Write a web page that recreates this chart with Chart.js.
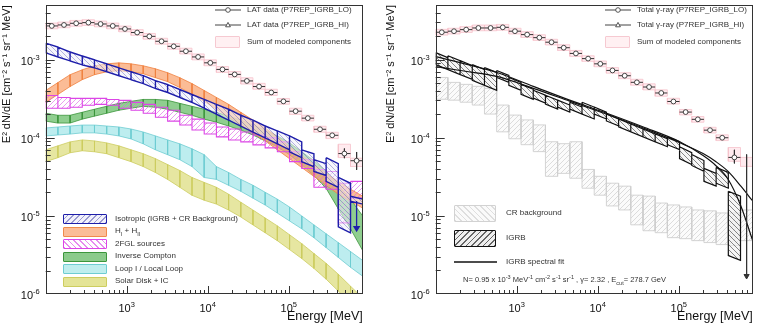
<!DOCTYPE html>
<html>
<head>
<meta charset="utf-8">
<script src="https://cdn.jsdelivr.net/npm/chart.js@4.4.1/dist/chart.umd.min.js"></script>
<style>
  body { margin: 0; background: #fff; width: 758px; height: 324px; overflow: hidden; position: relative; font-family: "Liberation Sans", Arial, sans-serif; }
  canvas { position: absolute; top: 0; }
  .t { position: absolute; font-size: 8px; line-height: 10px; color: #333; white-space: nowrap; }
  .t sub, .t sup { font-size: 5.5px; line-height: 0; }
  .sw { position: absolute; box-sizing: border-box; border-radius: 1px; }
  svg { position: absolute; }
</style>
</head>
<body>
<canvas id="left" width="379" height="324" style="left:0"></canvas>
<canvas id="right" width="379" height="324" style="left:379px"></canvas>

<!-- left panel legends -->
<svg style="left:214px;top:5px" width="28" height="10"><line x1="1" y1="5" x2="27" y2="5" stroke="#444" stroke-width="1"/><circle cx="14" cy="5" r="2.3" fill="#fff" stroke="#444" stroke-width="0.9"/></svg>
<div class="t" style="left:247px;top:5px">LAT data (P7REP_IGRB_LO)</div>
<svg style="left:214px;top:20px" width="28" height="10"><line x1="1" y1="5" x2="27" y2="5" stroke="#444" stroke-width="1"/><path d="M14 2.4 L16.4 6.8 L11.6 6.8 Z" fill="#fff" stroke="#444" stroke-width="0.9"/></svg>
<div class="t" style="left:247px;top:20px">LAT data (P7REP_IGRB_HI)</div>
<div class="sw" style="left:215px;top:36px;width:25px;height:12px;background:#fff0f2;border:1px solid #f6c9d1"></div>
<div class="t" style="left:247px;top:37px">Sum of modeled components</div>

<div class="sw" style="left:63px;top:214px;width:44px;height:10px;border:1.5px solid #1e1eaa;background:repeating-linear-gradient(-45deg,rgba(70,70,170,.55) 0 1px,rgba(236,236,250,.7) 1px 4px)"></div>
<div class="t" style="left:115px;top:213.5px">Isotropic (IGRB + CR Background)</div>
<div class="sw" style="left:63px;top:226.5px;width:44px;height:10px;background:rgba(250,172,125,.8);border:1px solid #f08a4a"></div>
<div class="t" style="left:115px;top:226px">H<sub>I</sub> + H<sub>II</sub></div>
<div class="sw" style="left:63px;top:239px;width:44px;height:10px;border:1.2px solid #dc46e6;background:repeating-linear-gradient(45deg,rgba(225,110,235,.8) 0 1px,#fff 1px 4px)"></div>
<div class="t" style="left:115px;top:238.5px">2FGL sources</div>
<div class="sw" style="left:63px;top:251.5px;width:44px;height:10px;background:rgba(110,190,110,.8);border:1px solid #3c963c"></div>
<div class="t" style="left:115px;top:251px">Inverse Compton</div>
<div class="sw" style="left:63px;top:264px;width:44px;height:10px;background:#bfeeee;border:1px solid #6ecdd2"></div>
<div class="t" style="left:115px;top:263.5px">Loop I / Local Loop</div>
<div class="sw" style="left:63px;top:276.5px;width:44px;height:10px;background:#e4e496;border:1px solid #cdcd5f"></div>
<div class="t" style="left:115px;top:276px">Solar Disk + IC</div>

<!-- right panel legends -->
<svg style="left:604px;top:5px" width="28" height="10"><line x1="1" y1="5" x2="27" y2="5" stroke="#444" stroke-width="1"/><circle cx="14" cy="5" r="2.3" fill="#fff" stroke="#444" stroke-width="0.9"/></svg>
<div class="t" style="left:637px;top:5px">Total γ-ray (P7REP_IGRB_LO)</div>
<svg style="left:604px;top:20px" width="28" height="10"><line x1="1" y1="5" x2="27" y2="5" stroke="#444" stroke-width="1"/><path d="M14 2.4 L16.4 6.8 L11.6 6.8 Z" fill="#fff" stroke="#444" stroke-width="0.9"/></svg>
<div class="t" style="left:637px;top:20px">Total γ-ray (P7REP_IGRB_HI)</div>
<div class="sw" style="left:605px;top:36px;width:25px;height:12px;background:#fff0f2;border:1px solid #f6c9d1"></div>
<div class="t" style="left:637px;top:37px">Sum of modeled components</div>

<div class="sw" style="left:454px;top:205px;width:42px;height:17px;border:1px solid #d2d2d2;background:repeating-linear-gradient(45deg,#dedede 0 1px,#fafafa 1px 4px)"></div>
<div class="t" style="left:506px;top:208px">CR background</div>
<div class="sw" style="left:454px;top:230px;width:42px;height:17px;border:1.3px solid #111;background:repeating-linear-gradient(-45deg,#666 0 1px,#eee 1px 4px)"></div>
<div class="t" style="left:506px;top:233px">IGRB</div>
<svg style="left:453px;top:257px" width="45" height="10"><line x1="1" y1="5" x2="44" y2="5" stroke="#111" stroke-width="1.3"/></svg>
<div class="t" style="left:506px;top:257px">IGRB spectral fit</div>
<div class="t" style="left:463px;top:275px;font-size:7.5px">N= 0.95 x 10<sup>-3</sup> MeV<sup>-1</sup> cm<sup>-2</sup> s<sup>-1</sup> sr<sup>-1</sup> , γ= 2.32 , E<sub>cut</sub>= 278.7 GeV</div>

<script>
Chart.defaults.font.family = '"Liberation Sans", Arial, sans-serif';

// energy bins (MeV)
const binEdges = [100, 141.4, 200, 282.8, 400, 565.7, 800, 1131, 1600, 2263, 3200, 4525, 6400, 9051, 12800, 18102, 25600, 36204, 51200, 72408, 102400, 144815, 204800, 289631, 409600, 579262, 819200];
const binCenters = [118.9, 168.2, 237.8, 336.4, 475.7, 672.7, 951.4, 1345, 1903, 2691, 3805, 5382, 7611, 10764, 15222, 21527, 30443, 43053, 60887, 86107, 121775, 172214, 243549, 344429, 487098, 688858];

const xTickExps = [3, 4, 5];
const yTickExps = [-6, -5, -4, -3];

// left panel: LAT data and sum of components
const latData = [2.72e-3, 2.80e-3, 2.94e-3, 3.00e-3, 2.88e-3, 2.72e-3, 2.49e-3, 2.24e-3, 2.00e-3, 1.73e-3, 1.49e-3, 1.29e-3, 1.09e-3, 9.16e-4, 7.54e-4, 6.51e-4, 5.37e-4, 4.55e-4, 3.82e-4, 2.94e-4, 2.20e-4, 1.79e-4, 1.29e-4, 1.08e-4, 6.3e-5, 5.1e-5];
const latSumLo = [2.50e-3, 2.58e-3, 2.70e-3, 2.76e-3, 2.65e-3, 2.50e-3, 2.29e-3, 2.06e-3, 1.84e-3, 1.59e-3, 1.37e-3, 1.19e-3, 1.00e-3, 8.4e-4, 6.9e-4, 6.0e-4, 4.9e-4, 4.2e-4, 3.5e-4, 2.7e-4, 2.0e-4, 1.65e-4, 1.18e-4, 9.8e-5, 5.6e-5, 4.3e-5];
const latSumHi = [2.96e-3, 3.05e-3, 3.20e-3, 3.27e-3, 3.14e-3, 2.96e-3, 2.71e-3, 2.44e-3, 2.18e-3, 1.89e-3, 1.62e-3, 1.41e-3, 1.19e-3, 1.00e-3, 8.2e-4, 7.1e-4, 5.9e-4, 5.0e-4, 4.2e-4, 3.2e-4, 2.4e-4, 1.95e-4, 1.41e-4, 1.18e-4, 8.3e-5, 5.5e-5];
const latErrBins = [24, 25];
const latErrLo = [5.5e-5, 3.9e-5];
const latErrHi = [7.3e-5, 6.6e-5];

// isotropic (per bin: [start, end])
const isoTop = [[1.64e-3,1.46e-3],[1.46e-3,1.26e-3],[1.26e-3,1.12e-3],[1.12e-3,1.0e-3],[1.0e-3,8.89e-4],[8.89e-4,7.91e-4],[7.91e-4,7.04e-4],[7.04e-4,6.27e-4],[6.27e-4,5.42e-4],[5.42e-4,4.82e-4],[4.82e-4,4.17e-4],[4.17e-4,3.60e-4],[3.60e-4,3.11e-4],[3.11e-4,2.69e-4],[2.69e-4,2.33e-4],[2.33e-4,1.95e-4],[1.95e-4,1.69e-4],[1.69e-4,1.42e-4],[1.42e-4,1.23e-4],[1.23e-4,1.06e-4],[1.06e-4,8.89e-5],[7.04e-5,6.27e-5],[5.26e-5,4.68e-5],[5.58e-5,4.68e-5],[3.11e-5,2.62e-5],[1.79e-5,1.64e-5]];
const isoBot = [[1.23e-3,1.09e-3],[1.09e-3,9.70e-4],[9.70e-4,8.63e-4],[8.63e-4,7.91e-4],[7.91e-4,7.04e-4],[7.04e-4,6.27e-4],[6.27e-4,5.58e-4],[5.58e-4,4.96e-4],[4.96e-4,4.29e-4],[4.29e-4,3.82e-4],[3.82e-4,3.30e-4],[3.30e-4,2.85e-4],[2.85e-4,2.40e-4],[2.40e-4,2.01e-4],[2.01e-4,1.69e-4],[1.69e-4,1.42e-4],[1.42e-4,1.19e-4],[1.19e-4,1.0e-4],[1.0e-4,8.39e-5],[8.39e-5,7.04e-5],[6.64e-5,5.58e-5],[4.96e-5,4.29e-5],[3.71e-5,3.30e-5],[2.77e-5,2.33e-5],[7.25e-6,6.09e-6],[1.55e-5,1.42e-5]];
const isoLimitBin = 25;
const isoLimit = [1.55e-5, 7.0e-6];

// 2FGL sources (flat per bin)
const fglTop = [3.50e-4, 3.30e-4, 3.21e-4, 3.21e-4, 3.21e-4, 3.11e-4, 3.03e-4, 2.85e-4, 2.69e-4, 2.47e-4, 2.26e-4, 1.95e-4, 1.74e-4, 1.55e-4, 1.38e-4, 1.30e-4, 1.19e-4, 1.09e-4, 1.0e-4, 8.89e-5, 6.64e-5, 5.26e-5, 3.93e-5, 3.71e-5, 2.62e-5, 2.77e-5];
const fglBot = [2.40e-4, 2.40e-4, 2.47e-4, 2.62e-4, 2.69e-4, 2.62e-4, 2.40e-4, 2.26e-4, 2.07e-4, 1.84e-4, 1.64e-4, 1.46e-4, 1.26e-4, 1.12e-4, 1.03e-4, 9.42e-5, 8.89e-5, 8.15e-5, 7.46e-5, 6.64e-5, 4.96e-5, 4.05e-5, 2.33e-5, 2.20e-5, 8.15e-6, 1.69e-5];

// smooth components, values at bin edges
const gasTop = [4.05e-4, 5.11e-4, 6.45e-4, 7.46e-4, 8.39e-4, 8.89e-4, 9.15e-4, 8.89e-4, 8.39e-4, 7.68e-4, 6.84e-4, 5.91e-4, 4.96e-4, 4.05e-4, 3.30e-4, 2.69e-4, 2.13e-4, 1.69e-4, 1.34e-4, 1.03e-4, 7.68e-5, 5.91e-5, 4.55e-5, 3.50e-5, 2.77e-5, 2.20e-5, 1.79e-5];
const gasBot = [2.85e-4, 3.60e-4, 4.55e-4, 5.58e-4, 6.45e-4, 7.04e-4, 7.25e-4, 7.04e-4, 6.64e-4, 5.91e-4, 5.26e-4, 4.42e-4, 3.60e-4, 2.94e-4, 2.33e-4, 1.84e-4, 1.46e-4, 1.16e-4, 9.15e-5, 7.04e-5, 5.42e-5, 4.17e-5, 3.21e-5, 2.47e-5, 1.90e-5, 1.55e-5, 1.26e-5];
const icTop = [2.07e-4, 1.95e-4, 1.95e-4, 2.13e-4, 2.33e-4, 2.54e-4, 2.77e-4, 2.94e-4, 3.11e-4, 3.11e-4, 3.03e-4, 2.77e-4, 2.54e-4, 2.33e-4, 2.13e-4, 1.90e-4, 1.69e-4, 1.46e-4, 1.26e-4, 1.06e-4, 8.63e-5, 6.64e-5, 5.11e-5, 3.71e-5, 2.47e-5, 1.64e-5, 1.0e-5];
const icBot = [1.64e-4, 1.55e-4, 1.55e-4, 1.74e-4, 1.90e-4, 2.07e-4, 2.26e-4, 2.40e-4, 2.54e-4, 2.47e-4, 2.33e-4, 2.13e-4, 1.95e-4, 1.74e-4, 1.59e-4, 1.42e-4, 1.26e-4, 1.09e-4, 9.15e-5, 7.68e-5, 6.09e-5, 4.55e-5, 3.30e-5, 2.26e-5, 1.23e-5, 6.84e-6, 3.60e-6];
const loopTop = [1.34e-4, 1.38e-4, 1.42e-4, 1.46e-4, 1.46e-4, 1.42e-4, 1.38e-4, 1.30e-4, 1.19e-4, 1.06e-4, 9.42e-5, 8.39e-5, 7.25e-5, 6.09e-5, 4.29e-5, 3.60e-5, 2.94e-5, 2.47e-5, 2.01e-5, 1.64e-5, 1.30e-5, 1.0e-5, 7.68e-6, 5.91e-6, 4.55e-6, 3.50e-6, 2.69e-6];
const loopBot = [1.06e-4, 1.09e-4, 1.12e-4, 1.16e-4, 1.16e-4, 1.12e-4, 1.06e-4, 9.70e-5, 8.39e-5, 7.04e-5, 6.09e-5, 5.26e-5, 4.29e-5, 3.11e-5, 2.94e-5, 2.47e-5, 2.07e-5, 1.69e-5, 1.38e-5, 1.09e-5, 8.63e-6, 6.84e-6, 5.26e-6, 3.93e-6, 2.94e-6, 2.20e-6, 1.69e-6];
const solarTop = [7.04e-5, 7.91e-5, 8.89e-5, 9.42e-5, 9.15e-5, 8.63e-5, 7.91e-5, 7.04e-5, 6.27e-5, 5.42e-5, 4.55e-5, 3.82e-5, 3.11e-5, 2.69e-5, 2.33e-5, 1.90e-5, 1.50e-5, 1.19e-5, 9.42e-6, 7.46e-6, 5.74e-6, 4.42e-6, 3.30e-6, 2.47e-6, 1.79e-6, 1.26e-6, 8.89e-7];
const solarBot = [4.96e-5, 5.58e-5, 6.45e-5, 6.84e-5, 6.64e-5, 6.27e-5, 5.58e-5, 4.96e-5, 4.29e-5, 3.60e-5, 2.94e-5, 2.33e-5, 1.84e-5, 1.59e-5, 1.42e-5, 1.19e-5, 9.70e-6, 7.68e-6, 6.09e-6, 4.82e-6, 3.71e-6, 2.85e-6, 2.13e-6, 1.55e-6, 1.09e-6, 7.68e-7, 5.42e-7];

// right panel: total gamma-ray data
const totData = [2.24e-3, 2.31e-3, 2.42e-3, 2.54e-3, 2.54e-3, 2.59e-3, 2.31e-3, 2.09e-3, 1.91e-3, 1.67e-3, 1.42e-3, 1.20e-3, 1.03e-3, 8.83e-4, 7.27e-4, 6.22e-4, 5.12e-4, 4.46e-4, 3.74e-4, 2.91e-4, 2.13e-4, 1.72e-4, 1.25e-4, 1.00e-4, 5.6e-5, null];
const totSumLo = [2.06e-3, 2.13e-3, 2.23e-3, 2.34e-3, 2.34e-3, 2.38e-3, 2.13e-3, 1.92e-3, 1.76e-3, 1.54e-3, 1.31e-3, 1.10e-3, 9.5e-4, 8.1e-4, 6.7e-4, 5.7e-4, 4.7e-4, 4.1e-4, 3.4e-4, 2.7e-4, 1.96e-4, 1.58e-4, 1.15e-4, 9.2e-5, 5.0e-5, 4.3e-5];
const totSumHi = [2.44e-3, 2.52e-3, 2.64e-3, 2.77e-3, 2.77e-3, 2.82e-3, 2.52e-3, 2.28e-3, 2.08e-3, 1.82e-3, 1.55e-3, 1.31e-3, 1.12e-3, 9.6e-4, 7.9e-4, 6.8e-4, 5.6e-4, 4.9e-4, 4.1e-4, 3.2e-4, 2.3e-4, 1.87e-4, 1.36e-4, 1.09e-4, 7.5e-5, 5.6e-5];
const totErrBins = [24];
const totErrLo = [4.7e-5];
const totErrHi = [7.0e-5];
const totLimitBin = 25;
const totLimit = [6.1e-5, 1.7e-6];

// CR background (flat per bin)
const crTop = [5.91e-4, 5.11e-4, 4.82e-4, 4.55e-4, 4.29e-4, 2.62e-4, 1.95e-4, 1.69e-4, 1.46e-4, 8.89e-5, 8.39e-5, 8.89e-5, 3.93e-5, 3.21e-5, 2.62e-5, 2.40e-5, 1.84e-5, 1.79e-5, 1.46e-5, 1.38e-5, 1.30e-5, 1.19e-5, 1.16e-5, 1.09e-5, 1.09e-5, 1.19e-5];
const crBot = [3.11e-4, 3.03e-4, 2.85e-4, 2.62e-4, 2.01e-4, 1.19e-4, 9.70e-5, 8.15e-5, 6.64e-5, 3.21e-5, 3.50e-5, 3.03e-5, 2.26e-5, 1.84e-5, 1.34e-5, 1.19e-5, 7.68e-6, 6.45e-6, 6.09e-6, 5.26e-6, 5.11e-6, 4.82e-6, 4.55e-6, 4.29e-6, 4.17e-6, 4.82e-6];

// IGRB (per bin: [start, end])
const igrbTop = [[1.23e-3,1.06e-3],[1.12e-3,9.70e-4],[9.70e-4,8.39e-4],[8.63e-4,7.46e-4],[7.91e-4,6.84e-4],[7.25e-4,6.27e-4],[5.91e-4,5.11e-4],[4.82e-4,4.17e-4],[4.05e-4,3.50e-4],[3.50e-4,3.03e-4],[3.03e-4,2.62e-4],[2.85e-4,2.47e-4],[2.85e-4,2.47e-4],[2.47e-4,2.13e-4],[2.01e-4,1.74e-4],[1.74e-4,1.50e-4],[1.50e-4,1.30e-4],[1.30e-4,1.12e-4],[1.12e-4,9.70e-5],[1.03e-4,8.89e-5],[7.68e-5,6.45e-5],[6.09e-5,5.11e-5],[4.05e-5,3.50e-5],[4.17e-5,3.60e-5],[2.07e-5,1.79e-5],null];
const igrbBot = [[8.63e-4,7.46e-4],[7.46e-4,6.45e-4],[6.45e-4,5.58e-4],[5.42e-4,4.68e-4],[4.68e-4,4.05e-4],[5.91e-4,5.11e-4],[4.68e-4,4.05e-4],[3.60e-4,3.11e-4],[3.21e-4,2.77e-4],[2.69e-4,2.33e-4],[2.47e-4,2.13e-4],[2.33e-4,2.01e-4],[2.01e-4,1.74e-4],[2.01e-4,1.74e-4],[1.64e-4,1.42e-4],[1.38e-4,1.19e-4],[1.19e-4,1.03e-4],[1.03e-4,8.89e-5],[8.89e-5,7.68e-5],[8.15e-5,7.04e-5],[5.42e-5,4.55e-5],[4.42e-5,3.71e-5],[2.77e-5,2.40e-5],[2.62e-5,2.26e-5],[3.11e-6,2.69e-6],null];

// IGRB spectral fit curves
const fitE = [100, 200, 570, 1600, 4500, 12700, 36000, 103000, 200000, 286000, 407000, 585000, 819200];
const fitA = [1.09e-3, 9.15e-4, 6.84e-4, 4.55e-4, 3.03e-4, 2.07e-4, 1.38e-4, 8.89e-5, 5.91e-5, 4.42e-5, 2.94e-5, 1.34e-5, 4.82e-6];
const fitB = [8.15e-4, 7.25e-4, 6.09e-4, 4.29e-4, 2.94e-4, 2.01e-4, 1.34e-4, 8.63e-5, 6.27e-5, 4.96e-5, 3.71e-5, 2.40e-5, 1.55e-5];

const hatch = (line, bg, dir) => {
  const c = document.createElement("canvas");
  c.width = c.height = 5;
  const g = c.getContext("2d");
  if (bg) {
    g.fillStyle = bg;
    g.fillRect(0, 0, 5, 5);
  }
  g.strokeStyle = line;
  g.lineWidth = 0.8;
  g.beginPath();
  if (dir > 0) {
    g.moveTo(0, 5); g.lineTo(5, 0);
    g.moveTo(-1, 1); g.lineTo(1, -1);
    g.moveTo(4, 6); g.lineTo(6, 4);
  } else {
    g.moveTo(0, 0); g.lineTo(5, 5);
    g.moveTo(-1, 4); g.lineTo(1, 6);
    g.moveTo(4, -1); g.lineTo(6, 1);
  }
  g.stroke();
  return g.createPattern(c, "repeat");
};

const edgePairs = (edges) => edges.slice(0, -1).map((v, i) => [v, edges[i + 1]]);

// each bin becomes one closed quad; null point breaks the line between quads
const quadPoints = (top, bot) => {
  const pts = [];
  top.forEach((t, i) => {
    const b = bot[i];
    if (t == null || b == null) return;
    const [t0, t1] = Array.isArray(t) ? t : [t, t];
    const [b0, b1] = Array.isArray(b) ? b : [b, b];
    const x0 = binEdges[i];
    const x1 = binEdges[i + 1];
    pts.push({ x: x0, y: t0 }, { x: x1, y: t1 }, { x: x1, y: b1 }, { x: x0, y: b0 }, { x: x0, y: t0 }, { x: x1, y: null });
  });
  return pts;
};

const band = (label, top, bot, fill, stroke, width) => ({
  label,
  data: quadPoints(top, bot),
  fill: "shape",
  backgroundColor: fill,
  borderColor: stroke,
  borderWidth: width,
  pointRadius: 0,
  spanGaps: false,
  tension: 0,
});

const dataSets = (values, errBins, errLo, errHi, limitBin, limit) => {
  const xbars = [];
  const ybars = [];
  const marks = [];
  values.forEach((v, i) => {
    if (v == null) return;
    xbars.push({ x: binEdges[i], y: v }, { x: binEdges[i + 1], y: v }, { x: binEdges[i + 1], y: null });
    marks.push({ x: binCenters[i], y: v });
  });
  errBins.forEach((b, k) => {
    ybars.push({ x: binCenters[b], y: errHi[k] }, { x: binCenters[b], y: errLo[k] }, { x: binCenters[b], y: null });
  });
  const sets = [
    { label: "points", data: marks, showLine: false, pointRadius: 2.4, pointStyle: "circle", pointBackgroundColor: "#fff", pointBorderColor: "#333", pointBorderWidth: 0.9 },
    { label: "xbars", data: xbars, borderColor: "#333", borderWidth: 1, pointRadius: 0, spanGaps: false },
    { label: "ybars", data: ybars, borderColor: "#333", borderWidth: 1, pointRadius: 0, spanGaps: false },
  ];
  if (limit) {
    sets.push({
      label: "limit",
      data: [{ x: binCenters[limitBin], y: limit[0] }, { x: binCenters[limitBin], y: limit[1] }],
      borderColor: "#333", borderWidth: 1, pointRadius: [0, 3], pointStyle: "triangle", pointRotation: 180,
      pointBackgroundColor: "#333", pointBorderColor: "#333",
    });
  }
  return sets;
};

const powLabel = (ctx, exp, x, y, align) => {
  const sup = String(exp);
  ctx.font = '11px "Liberation Sans", Arial';
  const wb = ctx.measureText("10").width;
  ctx.font = '7.5px "Liberation Sans", Arial';
  const ws = ctx.measureText(sup).width;
  const x0 = align === "center" ? x - (wb + ws) / 2 : x - wb - ws;
  ctx.font = '11px "Liberation Sans", Arial';
  ctx.fillText("10", x0, y);
  ctx.font = '7.5px "Liberation Sans", Arial';
  ctx.fillText(sup, x0 + wb, y - 5);
};

// ROOT-like frame with inward ticks and 10^n labels
const rootAxes = {
  id: "rootAxes",
  afterDraw(chart) {
    const { ctx, chartArea: a, scales } = chart;
    const xs = scales.x;
    const ys = scales.y;
    ctx.save();
    ctx.strokeStyle = "#333";
    ctx.lineWidth = 1;
    ctx.beginPath();
    for (let e = 2; e <= 5; e++) {
      for (let m = 1; m <= 9; m++) {
        const v = m * Math.pow(10, e);
        if (v <= xs.min || v >= xs.max) continue;
        const px = Math.round(xs.getPixelForValue(v)) + 0.5;
        ctx.moveTo(px, a.bottom);
        ctx.lineTo(px, a.bottom - (m === 1 ? 8 : 4));
      }
    }
    for (let e = -6; e <= -3; e++) {
      for (let m = 1; m <= 9; m++) {
        const v = m * Math.pow(10, e);
        if (v <= ys.min || v >= ys.max) continue;
        const py = Math.round(ys.getPixelForValue(v)) + 0.5;
        ctx.moveTo(a.left, py);
        ctx.lineTo(a.left + (m === 1 ? 9 : 5), py);
      }
    }
    ctx.stroke();
    ctx.strokeRect(Math.round(a.left) + 0.5, Math.round(a.top) + 0.5, Math.round(a.right - a.left) - 1, Math.round(a.bottom - a.top) - 1);
    ctx.fillStyle = "#111";
    ctx.textAlign = "left";
    ctx.textBaseline = "alphabetic";
    xTickExps.forEach((e) => powLabel(ctx, e, xs.getPixelForValue(Math.pow(10, e)), a.bottom + 18, "center"));
    yTickExps.forEach((e) => powLabel(ctx, e, a.left - 6, ys.getPixelForValue(Math.pow(10, e)) + 5, "right"));
    ctx.restore();
  },
};

const createPanel = (id, yWidth, padRight, titlePad, datasets) => {
  return new Chart(document.getElementById(id), {
    type: "line",
    data: { datasets },
    options: {
      responsive: false,
      animation: false,
      devicePixelRatio: 1,
      layout: { padding: { left: 0, right: padRight, top: 2, bottom: 0 } },
      elements: { line: { tension: 0 } },
      scales: {
        x: {
          type: "logarithmic",
          min: 100,
          max: 819200,
          bounds: "data",
          grid: { display: false },
          border: { display: false },
          ticks: { display: false },
          title: { display: true, text: "Energy [MeV]", align: "end", color: "#111", font: { size: 12.5 }, padding: { top: 0, bottom: 0 } },
          afterFit: (s) => { s.height = 30; },
        },
        y: {
          type: "logarithmic",
          min: 1e-6,
          max: 5e-3,
          bounds: "data",
          grid: { display: false },
          border: { display: false },
          ticks: { display: false },
          title: { display: true, text: "E² dN/dE [cm⁻² s⁻¹ sr⁻¹ MeV]", align: "end", color: "#111", font: { size: 11 }, padding: { top: titlePad, bottom: 0 } },
          afterFit: (s) => { s.width = yWidth; },
        },
      },
      plugins: { legend: { display: false }, tooltip: { enabled: false } },
    },
    plugins: [rootAxes],
  });
};

createPanel("left", 45.7, 16.3, 0, dataSets(latData, latErrBins, latErrLo, latErrHi, null, null).concat([
  {
    label: "iso limit",
    data: [{ x: binCenters[isoLimitBin], y: isoLimit[0] }, { x: binCenters[isoLimitBin], y: isoLimit[1] }],
    borderColor: "#1e1eaa", borderWidth: 1.3, pointRadius: [0, 3], pointStyle: "triangle", pointRotation: 180,
    pointBackgroundColor: "#1e1eaa", pointBorderColor: "#1e1eaa",
  },
  band("Isotropic", isoTop, isoBot, hatch("rgba(60,60,170,0.45)", "rgba(238,238,250,0.55)", -1), "#1e1eaa", 1.4),
  band("2FGL", fglTop, fglBot, hatch("rgba(220,100,230,0.8)", null, 1), "#dc46e6", 1.1),
  band("HI + HII", edgePairs(gasTop), edgePairs(gasBot), "rgba(250,165,115,0.75)", "#f08240", 0.8),
  band("IC", edgePairs(icTop), edgePairs(icBot), "rgba(105,190,105,0.75)", "#3c963c", 0.8),
  band("Loop I", edgePairs(loopTop), edgePairs(loopBot), "rgba(178,234,236,0.85)", "#6ecdd2", 0.8),
  band("Solar", edgePairs(solarTop), edgePairs(solarBot), "rgba(226,226,145,0.85)", "#cdcd5f", 0.8),
  band("Sum", latSumLo, latSumHi, "rgba(255,228,233,0.75)", "#f6c3cc", 0.8),
]));

createPanel("right", 56.7, 5.3, 5, dataSets(totData, totErrBins, totErrLo, totErrHi, totLimitBin, totLimit).concat([
  { label: "fit A", data: fitE.map((e, i) => ({ x: e, y: fitA[i] })), borderColor: "#111", borderWidth: 1.2, pointRadius: 0, cubicInterpolationMode: "monotone" },
  { label: "fit B", data: fitE.map((e, i) => ({ x: e, y: fitB[i] })), borderColor: "#111", borderWidth: 1.2, pointRadius: 0, cubicInterpolationMode: "monotone" },
  band("IGRB", igrbTop, igrbBot, hatch("rgba(60,60,60,0.75)", "rgba(240,240,240,0.6)", -1), "#111", 1.2),
  band("CR background", crTop, crBot, hatch("#d4d4d4", "rgba(250,250,250,0.8)", 1), "#cfcfcf", 0.9),
  band("Sum", totSumLo, totSumHi, "rgba(255,228,233,0.75)", "#f6c3cc", 0.8),
]));
</script>
</body>
</html>
